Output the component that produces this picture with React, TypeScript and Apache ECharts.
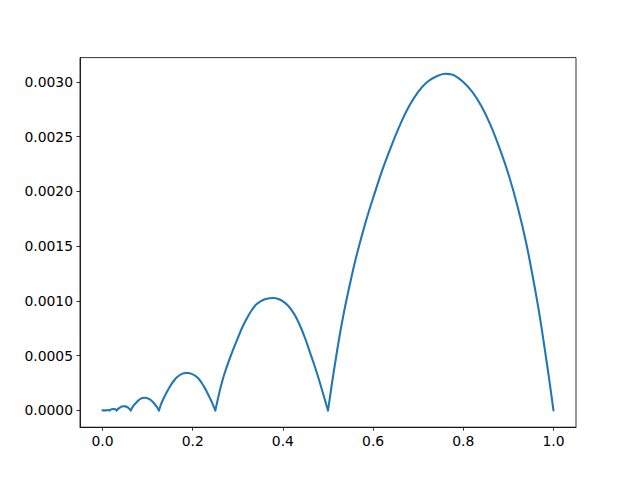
import React, { useEffect, useRef } from "react";
import * as echarts from "echarts";

// Arches of the curve: [x, y]
const archTiny: number[][] = [
  [0, 0], [0.0039, 0.0000005], [0.0078, 0], [0.0117, 0.000004], [0.0156, 0],
];
const archF: number[][] = [
  [0.0156, 0], [0.02, 0.00001], [0.024, 0.000013], [0.028, 0.00001], [0.03125, 0],
];
const archE: number[][] = [
  [0.03125, 0], [0.035, 0.000016], [0.04, 0.00003], [0.045, 0.000038], [0.05, 0.000037],
  [0.055, 0.00003], [0.06, 0.000013], [0.0625, 0],
];
const archD: number[][] = [
  [0.0625, 0], [0.065, 0.00002], [0.0675, 0.000036], [0.07, 0.00005], [0.075, 0.000073],
  [0.08, 0.000093], [0.085, 0.000107], [0.09, 0.000113], [0.095, 0.000115],
  [0.1, 0.00011], [0.105, 0.0001], [0.11, 0.000084], [0.115, 0.000061],
  [0.12, 0.000034], [0.125, 0],
];
const archC: number[][] = [
  [0.125, 0], [0.1275, 0.00003], [0.13, 0.00006], [0.135, 0.000107], [0.14, 0.000147],
  [0.145, 0.000187], [0.15, 0.00022], [0.155, 0.000253], [0.16, 0.00028],
  [0.165, 0.000302], [0.17, 0.000319], [0.175, 0.000331], [0.18, 0.000339],
  [0.185, 0.000342], [0.19, 0.000341], [0.195, 0.000337], [0.2, 0.000329],
  [0.205, 0.000318], [0.21, 0.000302], [0.215, 0.00028], [0.22, 0.00025],
  [0.225, 0.000217], [0.23, 0.00018], [0.235, 0.000139], [0.24, 0.000097],
  [0.245, 0.00005], [0.25, 0],
];
const archB: number[][] = [
  [0.25, 0], [0.255, 0.00009], [0.26, 0.00018], [0.265, 0.00026], [0.27, 0.00033],
  [0.28, 0.00045], [0.29, 0.00056], [0.3, 0.00066], [0.31, 0.00076],
  [0.32, 0.00084], [0.33, 0.00091], [0.34, 0.000965], [0.35, 0.000995],
  [0.36, 0.001015], [0.37, 0.001025], [0.38, 0.001027], [0.39, 0.001017],
  [0.4, 0.000996], [0.41, 0.000962], [0.42, 0.000912], [0.43, 0.000845],
  [0.44, 0.000755], [0.45, 0.00065], [0.46, 0.00053], [0.47, 0.00041],
  [0.48, 0.00028], [0.49, 0.00014], [0.5, 0],
];
const archA: number[][] = [
  [0.5, 0], [0.505, 0.00014], [0.51, 0.00028], [0.52, 0.00054], [0.53, 0.00078],
  [0.54, 0.00099], [0.55, 0.00118], [0.56, 0.00136], [0.57, 0.00152],
  [0.58, 0.00167], [0.59, 0.00181], [0.6, 0.00194], [0.62, 0.00219],
  [0.64, 0.00241], [0.66, 0.00261], [0.68, 0.00278], [0.7, 0.00291],
  [0.72, 0.003], [0.74, 0.00305], [0.76, 0.003075], [0.77, 0.003072],
  [0.78, 0.00306], [0.8, 0.003], [0.82, 0.00291], [0.84, 0.00278],
  [0.86, 0.00261], [0.88, 0.0024], [0.9, 0.00216], [0.92, 0.00187],
  [0.94, 0.00152], [0.96, 0.00109], [0.97, 0.00085], [0.98, 0.00058],
  [0.99, 0.0003], [1.0, 0],
];

const arches = [archTiny, archF, archE, archD, archC, archB, archA];
const xTicks = [0, 0.2, 0.4, 0.6, 0.8, 1.0];
const yTicks = [0, 0.0005, 0.001, 0.0015, 0.002, 0.0025, 0.003];

export default function App() {
  const ref = useRef<HTMLDivElement>(null);
  useEffect(() => {
    document.body.style.margin = "0";
    if (!ref.current) return;
    const chart = echarts.init(ref.current, null, { renderer: "svg" });
    const font = {
      fontFamily: "DejaVu Sans",
      fontSize: 13.9,
      color: "#000",
    };
    const axisCommon = {
      type: "value",
      axisLine: { show: true, onZero: false, lineStyle: { color: "#000", width: 0.8 } },
      splitLine: { show: false },
    };
    chart.setOption({
      animation: false,
      backgroundColor: "#fff",
      grid: {
        left: 80,
        right: 64,
        top: 57.6,
        bottom: 52.8,
        show: true,
        borderColor: "#000",
        borderWidth: 0.8,
        backgroundColor: "transparent",
        containLabel: false,
      },
      xAxis: {
        ...axisCommon,
        min: -0.05,
        max: 1.05,
        axisTick: {
          show: true,
          length: 3.5,
          inside: false,
          customValues: xTicks,
          lineStyle: { color: "#000", width: 0.8 },
        },
        axisLabel: {
          ...font,
          margin: 7,
          customValues: xTicks,
          formatter: (v: number) => v.toFixed(1),
        },
      },
      yAxis: {
        ...axisCommon,
        min: -0.0001535,
        max: 0.003223,
        axisTick: {
          show: true,
          length: 3.5,
          inside: false,
          customValues: yTicks,
          lineStyle: { color: "#000", width: 0.8 },
        },
        axisLabel: {
          ...font,
          margin: 7,
          customValues: yTicks,
          formatter: (v: number) => v.toFixed(4),
        },
      },
      series: arches.map((arch) => ({
        type: "line",
        data: arch,
        showSymbol: false,
        symbol: "none",
        smooth: 0.35,
        lineStyle: { color: "#1f77b4", width: 2.08, join: "round", cap: "round" },
      })),
    });
    return () => chart.dispose();
  }, []);
  return <div ref={ref} style={{ width: 640, height: 480 }} />;
}
